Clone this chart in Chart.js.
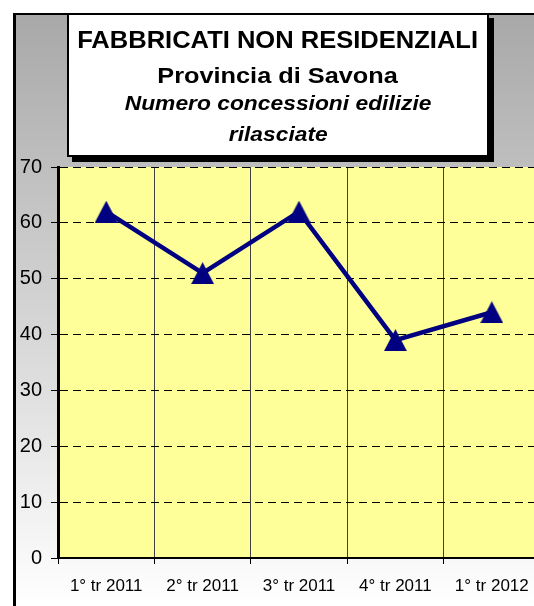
<!DOCTYPE html>
<html><head><meta charset="utf-8">
<script src="https://cdn.jsdelivr.net/npm/chart.js@4.4.0/dist/chart.umd.min.js"></script>
<style>
html,body{margin:0;padding:0;overflow:hidden;background:#fff;width:534px;height:606px;scrollbar-width:none;}
::-webkit-scrollbar{display:none;width:0;height:0;}
#clip{position:absolute;left:0;top:0;width:534px;height:606px;overflow:hidden;}
#c{position:absolute;left:0;top:0;}
#box{position:absolute;left:67px;top:13px;width:422px;height:144px;box-sizing:border-box;border:2px solid #000;background:#fff;box-shadow:5px 5px 0 #000;}
.t{position:absolute;left:67px;width:422px;text-align:center;font-family:"Liberation Sans",Arial,sans-serif;font-weight:bold;color:#000;white-space:nowrap;}
.t span{display:inline-block;transform-origin:50% 50%;}
</style></head>
<body>
<div id="clip">
<canvas id="c" width="550" height="606" style="width:550px;height:606px"></canvas>
<div id="box"></div>
<div class="t" style="top:29px;font-size:23px;line-height:23px"><span style="transform:scaleX(1.11)">FABBRICATI NON RESIDENZIALI</span></div>
<div class="t" style="top:65px;font-size:22px;line-height:22px"><span style="transform:scaleX(1.15)">Provincia di Savona</span></div>
<div class="t" style="top:94px;font-size:19.5px;line-height:19.5px;font-style:italic"><span style="transform:scaleX(1.17)">Numero concessioni edilizie</span></div>
<div class="t" style="top:125px;font-size:19.5px;line-height:19.5px;font-style:italic"><span style="transform:scaleX(1.17)">rilasciate</span></div>
</div>
<script>
const categories = ['1° tr 2011', '2° tr 2011', '3° tr 2011', '4° tr 2011', '1° tr 2012'];
const values = [62, 51, 62, 39, 44];
const yMin = 0, yMax = 70, yStep = 10;

const FONT = '"Liberation Sans", Arial, sans-serif';

// triangle marker
const tri = document.createElement('canvas');
tri.width = 23; tri.height = 22;
(function(){
  const c = tri.getContext('2d');
  c.fillStyle = '#000080';
  c.beginPath();
  c.moveTo(11.5, 0);
  c.lineTo(23, 22);
  c.lineTo(0, 22);
  c.closePath();
  c.fill();
})();

const bgPlugin = {
  id: 'bg',
  beforeDraw(chart) {
    const ctx = chart.ctx;
    const W = chart.width, H = chart.height;
    ctx.save();
    ctx.fillStyle = '#fff';
    ctx.fillRect(0, 0, W, H);
    const g = ctx.createLinearGradient(0, 13, 0, H);
    g.addColorStop(0, '#a8a8a8');
    g.addColorStop(1, '#ffffff');
    ctx.fillStyle = g;
    ctx.fillRect(13, 13, W - 13, H - 13);
    ctx.fillStyle = '#000';
    ctx.fillRect(13, 13, 3, H - 13);
    ctx.fillRect(13, 13, W - 13, 2);
    const a = chart.chartArea;
    ctx.fillStyle = '#ffff99';
    ctx.fillRect(a.left, a.top, a.right - a.left, a.bottom - a.top);
    ctx.restore();
  }
};

new Chart(document.getElementById('c'), {
  type: 'line',
  data: {
    labels: categories,
    datasets: [{
      data: values,
      borderColor: '#000080',
      borderWidth: 4.5,
      pointStyle: tri,
      pointRadius: 10,
      pointBackgroundColor: '#000080',
      pointBorderWidth: 0,
      tension: 0,
      fill: false,
      clip: false
    }]
  },
  options: {
    responsive: false,
    animation: false,
    layout: { padding: { left: 0, right: 5, top: 167, bottom: 0 } },
    plugins: { legend: { display: false }, tooltip: { enabled: false }, title: { display: false } },
    scales: {
      x: {
        type: 'category',
        offset: true,
        grid: { offset: true, color: '#404040', lineWidth: 1, drawTicks: true, tickLength: 6, tickColor: '#000', tickWidth: 1 },
        border: { display: true, color: '#000', width: 2 },
        ticks: { color: '#000', font: { family: FONT, size: 17 }, padding: 12, maxRotation: 0, autoSkip: false },
        afterFit(s) { s.height = 48; }
      },
      y: {
        min: yMin, max: yMax,
        ticks: { stepSize: yStep, color: '#000', font: { family: FONT, size: 20 }, padding: 9 },
        grid: { color: '#000', lineWidth: 1, drawTicks: true, tickLength: 7, tickColor: '#000', tickWidth: 1 },
        border: { display: true, color: '#000', width: 3, dash: [8, 5] },
        afterFit(s) { s.width = 58; }
      }
    }
  },
  plugins: [bgPlugin]
});
</script>
</body></html>
